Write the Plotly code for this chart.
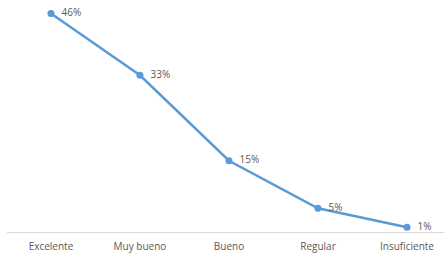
import plotly.graph_objects as go

categories = ["Excelente", "Muy bueno", "Bueno", "Regular", "Insuficiente"]
values = [46, 33, 15, 5, 1]
labels = ["46%", "33%", "15%", "5%", "1%"]

fig = go.Figure()
fig.add_trace(go.Scatter(
    x=categories, y=values, mode="lines+markers+text",
    text=labels, texttemplate="  %{text}", textposition="middle right",
    textfont=dict(family="Open Sans, Liberation Sans, sans-serif", size=10, color="#595959"),
    line=dict(color="#5B9BD5", width=2.5),
    marker=dict(color="#5B9BD5", size=7),
    cliponaxis=False, hoverinfo="skip",
))
fig.update_layout(
    width=444, height=256,
    margin=dict(l=7, r=0, t=4, b=24),
    paper_bgcolor="white", plot_bgcolor="white",
    showlegend=False,
    font=dict(family="Open Sans, Liberation Sans, sans-serif", size=10, color="#595959"),
)
fig.update_xaxes(
    type="category", range=[-0.494, 4.416],
    showgrid=False, showline=True, linecolor="#D9D9D9", linewidth=1,
    ticks="", tickfont=dict(size=10, color="#595959"), ticklabelstandoff=5,
)
fig.update_yaxes(range=[0, 48], visible=False, showgrid=False, zeroline=False)
fig.write_html("out.html", config={"displayModeBar": False},
               post_script="document.body.style.margin='0';document.body.style.overflow='hidden';")
